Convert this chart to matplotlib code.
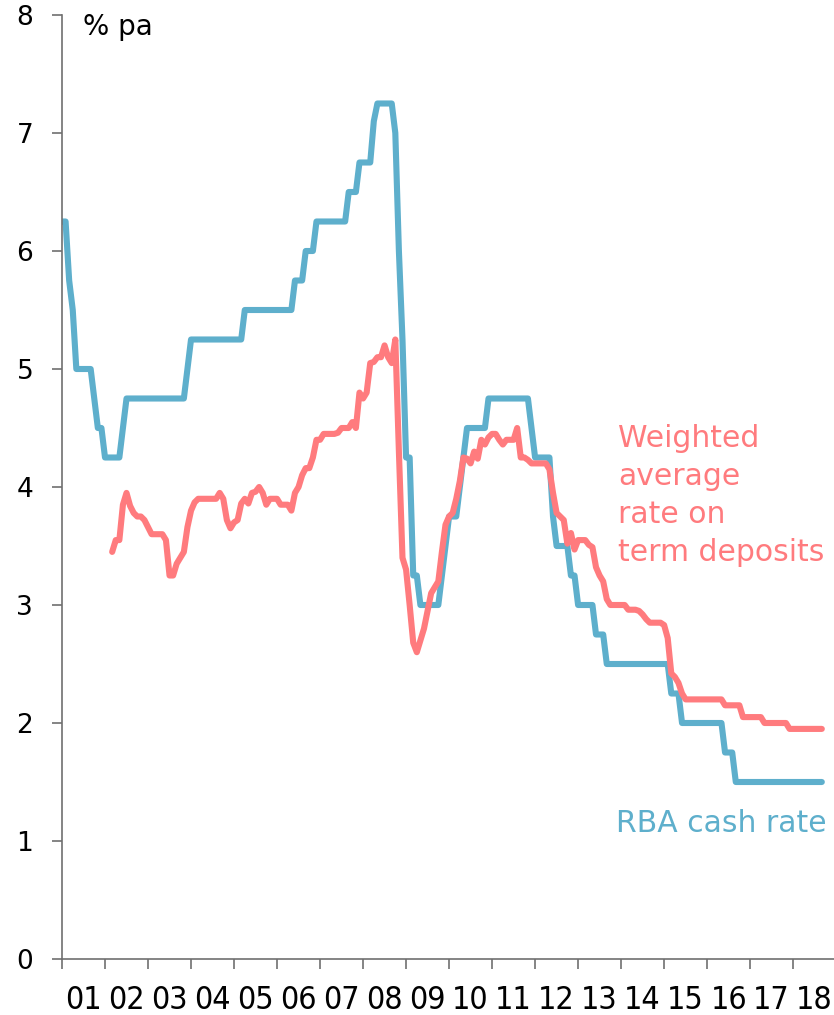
import matplotlib
matplotlib.use('Agg')
import matplotlib.pyplot as plt
import numpy as np

# end-of-month values, first point is Dec 2000
cash_start = [6.25]
cash_2001 = [6.25, 5.75, 5.5, 5.0, 5.0, 5.0, 5.0, 5.0, 4.75, 4.5, 4.5, 4.25]
cash_2002 = [4.25, 4.25, 4.25, 4.25, 4.5, 4.75, 4.75, 4.75, 4.75, 4.75, 4.75, 4.75]
cash_2003 = [4.75, 4.75, 4.75, 4.75, 4.75, 4.75, 4.75, 4.75, 4.75, 4.75, 5.0, 5.25]
cash_2004 = [5.25] * 12
cash_2005 = [5.25, 5.25, 5.5, 5.5, 5.5, 5.5, 5.5, 5.5, 5.5, 5.5, 5.5, 5.5]
cash_2006 = [5.5, 5.5, 5.5, 5.5, 5.75, 5.75, 5.75, 6.0, 6.0, 6.0, 6.25, 6.25]
cash_2007 = [6.25, 6.25, 6.25, 6.25, 6.25, 6.25, 6.25, 6.5, 6.5, 6.5, 6.75, 6.75]
cash_2008 = [6.75, 6.75, 7.1, 7.25, 7.25, 7.25, 7.25, 7.25, 7.0, 6.0, 5.25, 4.25]
cash_2009 = [4.25, 3.25, 3.25, 3.0, 3.0, 3.0, 3.0, 3.0, 3.0, 3.25, 3.5, 3.75]
cash_2010 = [3.75, 3.75, 4.0, 4.25, 4.5, 4.5, 4.5, 4.5, 4.5, 4.5, 4.75, 4.75]
cash_2011 = [4.75, 4.75, 4.75, 4.75, 4.75, 4.75, 4.75, 4.75, 4.75, 4.75, 4.5, 4.25]
cash_2012 = [4.25, 4.25, 4.25, 4.25, 3.75, 3.5, 3.5, 3.5, 3.5, 3.25, 3.25, 3.0]
cash_2013 = [3.0, 3.0, 3.0, 3.0, 2.75, 2.75, 2.75, 2.5, 2.5, 2.5, 2.5, 2.5]
cash_2014 = [2.5] * 12
cash_2015 = [2.5, 2.25, 2.25, 2.25, 2.0, 2.0, 2.0, 2.0, 2.0, 2.0, 2.0, 2.0]
cash_2016 = [2.0, 2.0, 2.0, 2.0, 1.75, 1.75, 1.75, 1.5, 1.5, 1.5, 1.5, 1.5]
cash_2017 = [1.5] * 12
cash_2018 = [1.5, 1.5, 1.5, 1.5, 1.5, 1.5, 1.5, 1.5]

nan = np.nan
td_start = [nan]
td_2001 = [nan] * 12
td_2002 = [nan, 3.45, 3.55, 3.55, 3.85, 3.95, 3.84, 3.78, 3.75, 3.75, 3.72, 3.66]
td_2003 = [3.6, 3.6, 3.6, 3.6, 3.55, 3.25, 3.25, 3.35, 3.4, 3.45, 3.66, 3.8]
td_2004 = [3.87, 3.9, 3.9, 3.9, 3.9, 3.9, 3.9, 3.95, 3.9, 3.72, 3.65, 3.7]
td_2005 = [3.72, 3.86, 3.9, 3.86, 3.95, 3.96, 4.0, 3.95, 3.85, 3.9, 3.9, 3.9]
td_2006 = [3.85, 3.85, 3.85, 3.8, 3.95, 4.0, 4.1, 4.16, 4.16, 4.25, 4.4, 4.4]
td_2007 = [4.45, 4.45, 4.45, 4.45, 4.46, 4.5, 4.5, 4.5, 4.55, 4.5, 4.8, 4.75]
td_2008 = [4.8, 5.05, 5.06, 5.1, 5.1, 5.2, 5.1, 5.05, 5.25, 4.3, 3.4, 3.3]
td_2009 = [3.0, 2.68, 2.6, 2.7, 2.8, 2.95, 3.1, 3.15, 3.2, 3.45, 3.68, 3.75]
td_2010 = [3.78, 3.9, 4.05, 4.25, 4.24, 4.2, 4.3, 4.24, 4.4, 4.36, 4.42, 4.45]
td_2011 = [4.45, 4.4, 4.36, 4.4, 4.4, 4.4, 4.5, 4.25, 4.25, 4.23, 4.2, 4.2]
td_2012 = [4.2, 4.2, 4.2, 4.15, 3.95, 3.78, 3.75, 3.72, 3.52, 3.61, 3.47, 3.55]
td_2013 = [3.55, 3.55, 3.51, 3.49, 3.32, 3.25, 3.2, 3.05, 3.0, 3.0, 3.0, 3.0]
td_2014 = [3.0, 2.96, 2.96, 2.96, 2.95, 2.92, 2.88, 2.85, 2.85, 2.85, 2.85, 2.83]
td_2015 = [2.72, 2.42, 2.39, 2.34, 2.25, 2.2, 2.2, 2.2, 2.2, 2.2, 2.2, 2.2]
td_2016 = [2.2, 2.2, 2.2, 2.2, 2.15, 2.15, 2.15, 2.15, 2.15, 2.05, 2.05, 2.05]
td_2017 = [2.05, 2.05, 2.05, 2.0, 2.0, 2.0, 2.0, 2.0, 2.0, 2.0, 1.95, 1.95]
td_2018 = [1.95, 1.95, 1.95, 1.95, 1.95, 1.95, 1.95, 1.95]

years = list(range(2001, 2019))
year_labels = [f'{y % 100:02d}' for y in years]
td_label_lines = ['Weighted', 'average', 'rate on', 'term deposits']

cash = np.array(cash_start + cash_2001 + cash_2002 + cash_2003 + cash_2004 + cash_2005
                + cash_2006 + cash_2007 + cash_2008 + cash_2009 + cash_2010 + cash_2011
                + cash_2012 + cash_2013 + cash_2014 + cash_2015 + cash_2016 + cash_2017
                + cash_2018)
td = np.array(td_start + td_2001 + td_2002 + td_2003 + td_2004 + td_2005 + td_2006
              + td_2007 + td_2008 + td_2009 + td_2010 + td_2011 + td_2012 + td_2013
              + td_2014 + td_2015 + td_2016 + td_2017 + td_2018)
# month-end positions in decimal years
t = 2001 + np.arange(len(cash)) / 12

blue = '#5EAFCC'
red = '#FF7B7E'
grey = '#707070'

plt.rcParams['font.family'] = ['DejaVu Sans']

fig = plt.figure(figsize=(8.34, 10.15), dpi=100)
ax = fig.add_axes([62 / 834, 56 / 1015, 1 - 62 / 834, (959 - 15) / 1015])

ax.plot(t, cash, color=blue, lw=4.4, solid_joinstyle='round', solid_capstyle='round')
ax.plot(t, td, color=red, lw=4.4, solid_joinstyle='round', solid_capstyle='round')

ax.set_xlim(2001, 2018.95)
ax.set_ylim(0, 8)

for s in ['top', 'right']:
    ax.spines[s].set_visible(False)
for s in ['left', 'bottom']:
    ax.spines[s].set_color(grey)
    ax.spines[s].set_linewidth(1.2)

ax.set_yticks(range(0, 9))
ax.tick_params(axis='y', length=7.2, width=1.2, color=grey, pad=13.5, labelsize=19)

ax.set_xticks(years)
ax.set_xticklabels([])
ax.set_xticks([y + 0.5 for y in years], minor=True)
ax.set_xticklabels(year_labels, minor=True, fontsize=23, fontstretch='condensed')
ax.tick_params(axis='x', which='major', length=7.2, width=1.2, color=grey)
ax.tick_params(axis='x', which='minor', length=0, pad=18.5)

fig.text(83 / 834, 1 - 35 / 1015, '% pa', fontsize=20, va='baseline', ha='left')
for i, line in enumerate(td_label_lines):
    fig.text(618 / 834, 1 - (447 + 38 * i) / 1015, line, color=red, fontsize=21.5,
             va='baseline', ha='left')
fig.text(616 / 834, 1 - 832 / 1015, 'RBA cash rate', color=blue, fontsize=21.5,
         va='baseline', ha='left')

fig.savefig('out.png', dpi=100)
